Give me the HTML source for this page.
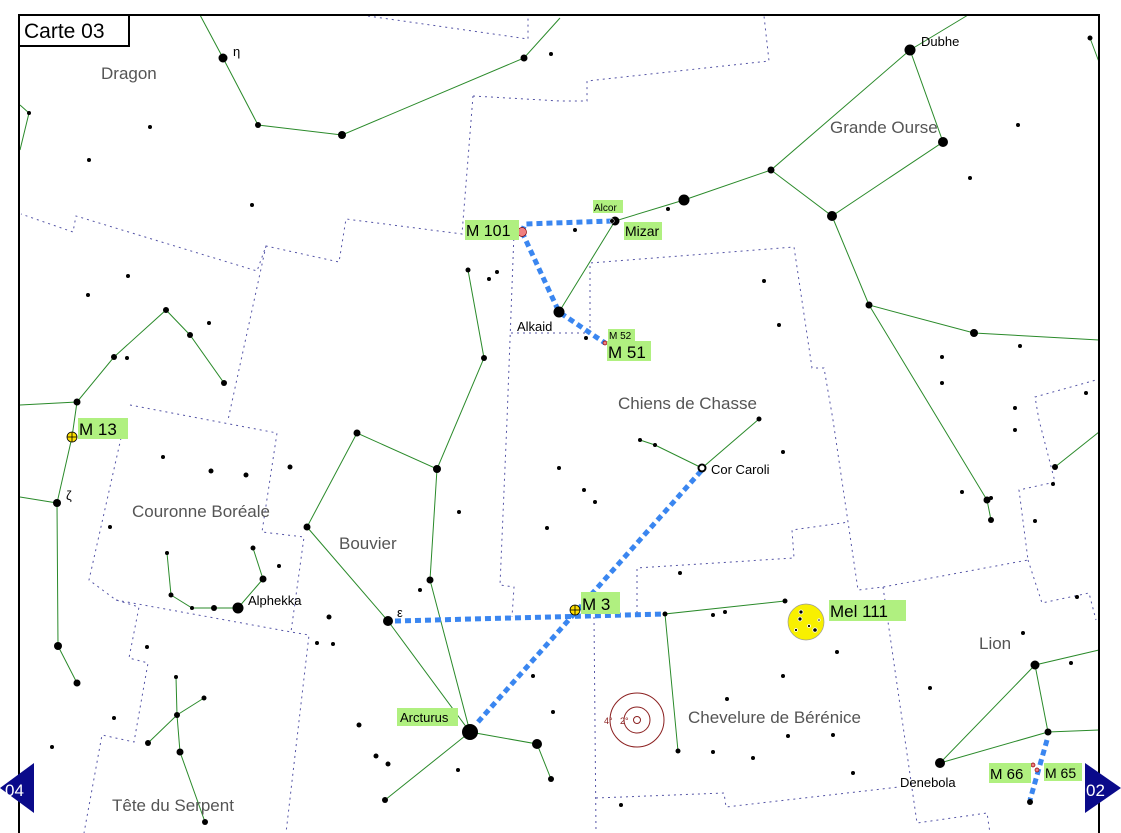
<!DOCTYPE html>
<html><head><meta charset="utf-8"><style>
html,body{margin:0;padding:0;background:#fff;}
svg{display:block;}
text{font-family:"Liberation Sans","DejaVu Sans",sans-serif;}
.cn{fill:#555;font-size:17px;}
.lb{fill:#000;font-size:13px;}
.g{fill:#b0f080;}
</style></head><body>
<svg width="1121" height="833" viewBox="0 0 1121 833" xmlns="http://www.w3.org/2000/svg">
<rect width="1121" height="833" fill="#fff"/>
<!-- boundaries -->
<g fill="none" stroke="#2a2a90" stroke-width="1" stroke-dasharray="2,4" opacity="0.8">
<polyline points="368,16 528,39 528,15"/>
<polyline points="473,96 560,101 587,101 587,81 769,61 764,16"/>
<polyline points="473,96 462,234 346,219 339,262 266,246 257,271 76,216 73,232 21,214"/>
<polyline points="266,246 228,420"/>
<polyline points="130,405 277,433 262,532 304,537 291,632 309,635 286,833"/>
<polyline points="121,438 89,580 116,600 139,607 129,658 148,663 134,742 102,735 84,833"/>
<polyline points="116,600 291,632"/>
<polyline points="514,233 507,420 500,585 514,587 512,617"/>
<polyline points="511,333 590,333 590,263 794,247 812,368 824,368 833,420 858,590 883,587 1028,560 1019,490 1055,482 1039,420 1035,397 1096,380"/>
<polyline points="883,587 917,823 987,813 990,833"/>
<polyline points="1028,560 1042,603 1089,593 1096,620"/>
<polyline points="594,617 596,833"/>
<polyline points="637,613 637,568 794,558 792,530 849,522"/>
<polyline points="596,798 724,793 726,807 899,787"/>
</g>
<!-- constellation lines -->
<g fill="none" stroke="#2a8a2a" stroke-width="1">
<polyline points="200,15 223,58 258,125 342,135 524,58 560,18"/>
<polyline points="20,105 29,113 20,150"/>
<polyline points="20,405 77,402 114,357 166,310 190,335 224,383"/>
<polyline points="77,402 72,437 57,503 58,646 77,683"/>
<polyline points="20,497 57,503"/>
<polyline points="167,553 171,595 192,608 214,608 238,608 263,579 253,548"/>
<polyline points="176,677 177,715 180,752 205,822"/>
<polyline points="148,743 177,715 204,698"/>
<polyline points="468,270 484,358 437,469 357,433 307,527 388,621 470,732 537,744 551,779"/>
<polyline points="437,469 430,580 470,732 385,800"/>
<polyline points="559,312 615,221 684,200 771,170 910,50 943,142 832,216 771,170"/>
<polyline points="910,50 968,15"/>
<polyline points="832,216 869,305 974,333 1099,340"/>
<polyline points="869,305 987,500 991,520"/>
<polyline points="1090,38 1099,62"/>
<polyline points="640,440 655,445 702,468 759,419"/>
<polyline points="785,601 665,614 678,751"/>
<polyline points="1099,650 1035,665 940,763 1048,732 1035,665"/>
<polyline points="1048,732 1099,730"/>
<polyline points="1055,467 1099,432"/>
</g>
<!-- blue paths -->
<g fill="none" stroke="#3a86f0" stroke-width="5" stroke-dasharray="6,4">
<polyline points="522,232 525,224 612,221"/>
<polyline points="522,232 559,312 605,343"/>
<polyline points="478,722 702,470"/>
<polyline points="395,621 665,614"/>
<polyline points="1047,740 1030,800"/>
</g>
<!-- stars -->
<g fill="#000">
<circle cx="223" cy="58" r="4.5"/><circle cx="258" cy="125" r="3"/><circle cx="342" cy="135" r="4"/><circle cx="524" cy="58" r="3.5"/><circle cx="551" cy="54" r="2"/>
<circle cx="29" cy="113" r="2"/><circle cx="150" cy="127" r="2"/><circle cx="89" cy="160" r="2"/><circle cx="252" cy="205" r="2"/><circle cx="128" cy="276" r="2"/><circle cx="88" cy="295" r="2"/><circle cx="209" cy="323" r="2"/><circle cx="127" cy="358" r="2"/>
<circle cx="77" cy="402" r="3.5"/><circle cx="114" cy="357" r="3"/><circle cx="166" cy="310" r="3"/><circle cx="190" cy="335" r="3"/><circle cx="224" cy="383" r="3"/>
<circle cx="57" cy="503" r="4"/><circle cx="58" cy="646" r="4"/><circle cx="77" cy="683" r="3.5"/>
<circle cx="163" cy="457" r="2"/><circle cx="211" cy="471" r="2.5"/><circle cx="246" cy="475" r="2.5"/><circle cx="290" cy="467" r="2.5"/><circle cx="110" cy="527" r="2"/><circle cx="279" cy="566" r="2"/>
<circle cx="167" cy="553" r="2"/><circle cx="171" cy="595" r="2.5"/><circle cx="192" cy="608" r="2"/><circle cx="214" cy="608" r="3"/><circle cx="238" cy="608" r="5.5"/><circle cx="263" cy="579" r="3.5"/><circle cx="253" cy="548" r="2.5"/>
<circle cx="147" cy="647" r="2"/><circle cx="176" cy="677" r="2"/><circle cx="177" cy="715" r="3"/><circle cx="204" cy="698" r="2.5"/><circle cx="148" cy="743" r="3"/><circle cx="180" cy="752" r="3.5"/><circle cx="205" cy="822" r="3"/><circle cx="114" cy="718" r="2"/><circle cx="52" cy="747" r="2"/>
<circle cx="468" cy="270" r="2.5"/><circle cx="489" cy="279" r="2"/><circle cx="497" cy="272" r="2"/><circle cx="484" cy="358" r="3"/><circle cx="437" cy="469" r="4"/><circle cx="357" cy="433" r="3.5"/><circle cx="307" cy="527" r="3.5"/><circle cx="388" cy="621" r="5"/><circle cx="430" cy="580" r="3.5"/><circle cx="420" cy="590" r="2"/>
<circle cx="470" cy="732" r="8"/><circle cx="537" cy="744" r="5"/><circle cx="551" cy="779" r="3"/><circle cx="385" cy="800" r="3"/>
<circle cx="329" cy="617" r="2.5"/><circle cx="317" cy="643" r="2"/><circle cx="333" cy="644" r="2"/><circle cx="359" cy="725" r="2.5"/><circle cx="376" cy="756" r="2.5"/><circle cx="388" cy="764" r="2.5"/><circle cx="458" cy="770" r="2"/><circle cx="533" cy="676" r="2"/><circle cx="553" cy="712" r="2"/><circle cx="459" cy="512" r="2"/><circle cx="547" cy="528" r="2"/><circle cx="593" cy="597" r="2"/>
<circle cx="559" cy="312" r="5.5"/><circle cx="684" cy="200" r="5.5"/><circle cx="771" cy="170" r="3.5"/><circle cx="832" cy="216" r="5"/><circle cx="943" cy="142" r="5"/><circle cx="910" cy="50" r="5.5"/><circle cx="869" cy="305" r="3.5"/><circle cx="974" cy="333" r="4"/><circle cx="987" cy="500" r="3.5"/><circle cx="991" cy="520" r="3"/><circle cx="1090" cy="38" r="2.5"/>
<circle cx="668" cy="209" r="2"/><circle cx="575" cy="230" r="2"/><circle cx="586" cy="338" r="2"/><circle cx="764" cy="281" r="2"/><circle cx="779" cy="325" r="2"/><circle cx="1018" cy="125" r="2"/><circle cx="970" cy="178" r="2"/><circle cx="942" cy="357" r="2"/><circle cx="1020" cy="346" r="2"/><circle cx="942" cy="383" r="2"/><circle cx="1086" cy="393" r="2"/><circle cx="1015" cy="408" r="2"/><circle cx="1015" cy="430" r="2"/>
<circle cx="640" cy="440" r="2"/><circle cx="655" cy="445" r="2"/><circle cx="759" cy="419" r="2.5"/><circle cx="783" cy="452" r="2"/><circle cx="584" cy="490" r="2"/><circle cx="595" cy="502" r="2"/><circle cx="559" cy="468" r="2"/>
<circle cx="1055" cy="467" r="3"/><circle cx="1053" cy="484" r="2"/><circle cx="1035" cy="521" r="2"/><circle cx="991" cy="498" r="2"/><circle cx="962" cy="492" r="2"/>
<circle cx="665" cy="614" r="2.5"/><circle cx="678" cy="751" r="2.5"/><circle cx="785" cy="601" r="2.5"/><circle cx="680" cy="573" r="2"/><circle cx="713" cy="615" r="2"/><circle cx="725" cy="612" r="2"/><circle cx="837" cy="652" r="2"/><circle cx="783" cy="676" r="2"/><circle cx="727" cy="699" r="2"/><circle cx="833" cy="735" r="2"/><circle cx="788" cy="736" r="2"/><circle cx="713" cy="752" r="2"/><circle cx="753" cy="758" r="2"/><circle cx="853" cy="773" r="2"/><circle cx="621" cy="805" r="2"/>
<circle cx="1035" cy="665" r="4.5"/><circle cx="1048" cy="732" r="3.5"/><circle cx="940" cy="763" r="5"/><circle cx="1071" cy="663" r="2"/><circle cx="1023" cy="633" r="2"/><circle cx="930" cy="688" r="2"/><circle cx="1030" cy="802" r="3"/><circle cx="1077" cy="597" r="2"/>
</g>
<!-- Mizar, Cor Caroli -->
<circle cx="615" cy="221" r="4.5" fill="#000"/><circle cx="612" cy="221" r="2.5" fill="#fff"/><circle cx="612" cy="221" r="2" fill="#000"/>
<circle cx="702" cy="468" r="3.5" fill="#fff" stroke="#000" stroke-width="2"/>
<!-- DSOs -->
<circle cx="522" cy="232" r="4.5" fill="#f08080" stroke="#800" stroke-width="0.7"/>
<circle cx="605" cy="343" r="2" fill="#f08080" stroke="#800" stroke-width="0.7"/>
<circle cx="1033" cy="765" r="2" fill="#f08080" stroke="#800" stroke-width="0.7"/>
<circle cx="1037" cy="770" r="2" fill="#f08080" stroke="#800" stroke-width="0.7"/>
<g stroke="#000" stroke-width="0.8"><circle cx="72" cy="437" r="5" fill="#ffe000"/><line x1="67" y1="437" x2="77" y2="437"/><line x1="72" y1="432" x2="72" y2="442"/>
<circle cx="575" cy="610" r="5" fill="#ffe000"/><line x1="570" y1="610" x2="580" y2="610"/><line x1="575" y1="605" x2="575" y2="615"/></g>
<circle cx="806" cy="622" r="18" fill="#f8f000" stroke="#999" stroke-width="0.7"/>
<g fill="#000" stroke="#fff" stroke-width="0.8"><circle cx="801" cy="612" r="2"/><circle cx="800" cy="619" r="2"/><circle cx="815" cy="630" r="2.2"/><circle cx="809" cy="626" r="1.5"/><circle cx="796" cy="630" r="1.5"/><circle cx="819" cy="620" r="1.2"/></g>
<g fill="none" stroke="#8b2020" stroke-width="1"><circle cx="637" cy="720" r="27"/><circle cx="637" cy="720" r="13"/><circle cx="637" cy="720" r="3.5"/></g>
<text x="604" y="724" font-size="9" fill="#8b2020">4°</text><text x="620" y="724" font-size="9" fill="#8b2020">2°</text>
<!-- constellation names -->
<text class="cn" x="101" y="79">Dragon</text>
<text class="cn" x="830" y="133">Grande Ourse</text>
<text class="cn" x="618" y="409">Chiens de Chasse</text>
<text class="cn" x="132" y="517">Couronne Boréale</text>
<text class="cn" x="339" y="549">Bouvier</text>
<text class="cn" x="688" y="723">Chevelure de Bérénice</text>
<text class="cn" x="979" y="649">Lion</text>
<text class="cn" x="112" y="811">Tête du Serpent</text>
<!-- star labels -->
<text class="lb" x="921" y="46">Dubhe</text>
<text class="lb" x="517" y="331">Alkaid</text>
<text class="lb" x="711" y="474">Cor Caroli</text>
<text class="lb" x="248" y="605">Alphekka</text>
<text class="lb" x="900" y="787">Denebola</text>
<text class="lb" x="233" y="56">η</text>
<text class="lb" x="66" y="500">ζ</text>
<text class="lb" x="397" y="617">ε</text>
<!-- green labels -->
<rect class="g" x="465" y="220" width="54" height="20"/><text x="466" y="236" font-size="16">M 101</text>
<rect class="g" x="593" y="200" width="30" height="13"/><text x="594" y="211" font-size="10">Alcor</text>
<rect class="g" x="624" y="222" width="38" height="18"/><text x="625" y="236" font-size="14">Mizar</text>
<rect class="g" x="608" y="329" width="27" height="12"/><text x="609" y="339" font-size="10">M 52</text>
<rect class="g" x="607" y="341" width="44" height="20"/><text x="608" y="358" font-size="17">M 51</text>
<rect class="g" x="78" y="418" width="50" height="21"/><text x="79" y="435" font-size="17">M 13</text>
<rect class="g" x="581" y="592" width="39" height="22"/><text x="582" y="610" font-size="17">M 3</text>
<rect class="g" x="829" y="600" width="77" height="21"/><text x="830" y="617" font-size="17">Mel 111</text>
<rect class="g" x="397" y="708" width="61" height="18"/><text x="400" y="722" font-size="13">Arcturus</text>
<rect class="g" x="989" y="763" width="42" height="20"/><text x="990" y="779" font-size="15">M 66</text>
<rect class="g" x="1044" y="763" width="38" height="18"/><text x="1045" y="778" font-size="14">M 65</text>
<!-- frame -->
<rect x="19" y="15" width="1080" height="830" fill="none" stroke="#000" stroke-width="2"/>
<rect x="19" y="15" width="110" height="31" fill="#fff" stroke="#000" stroke-width="2"/>
<text x="24" y="38" font-size="21" fill="#000">Carte 03</text>
<!-- nav triangles -->
<polygon points="0,788 34,763 34,813" fill="#0a0a8a"/>
<text x="5" y="796" font-size="17" fill="#fff">04</text>
<polygon points="1085,763 1121,788 1085,813" fill="#0a0a8a"/>
<text x="1086" y="796" font-size="17" fill="#fff">02</text>
</svg>
</body></html>
